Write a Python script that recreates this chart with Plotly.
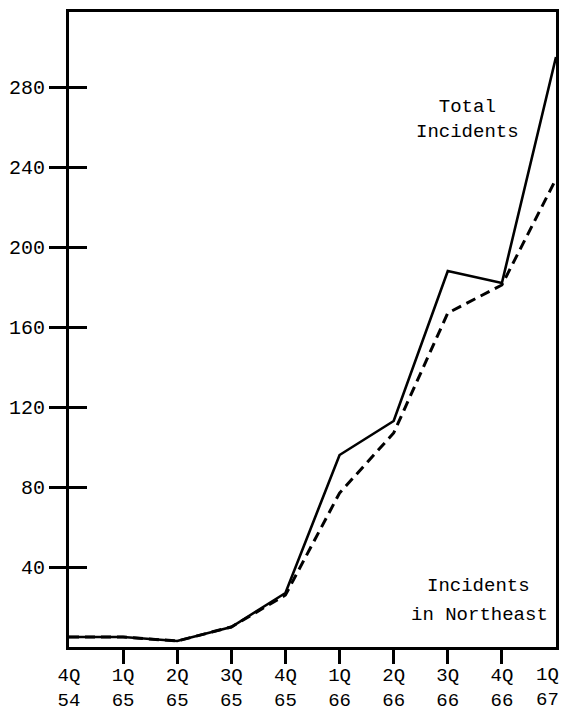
import plotly.graph_objects as go

# Quarterly incident counts, 4Q 1964 through 1Q 1967
quarters = ["4Q<br>54", "1Q<br>65", "2Q<br>65", "3Q<br>65", "4Q<br>65",
            "1Q<br>66", "2Q<br>66", "3Q<br>66", "4Q<br>66", "1Q<br>67"]
total_incidents = [5, 5, 3, 10, 27, 96, 113, 188, 182, 295]
northeast_incidents = [5, 5, 3, 10, 26, 77, 107, 167, 181, 234]
y_ticks = [40, 80, 120, 160, 200, 240, 280]

x_idx = list(range(len(quarters)))
FONT = "Liberation Mono"
label_font = dict(size=19, family=FONT, color="black")

fig = go.Figure()
fig.add_trace(go.Scatter(
    x=x_idx, y=total_incidents, mode="lines",
    line=dict(color="black", width=2.6), showlegend=False))
fig.add_trace(go.Scatter(
    x=x_idx, y=northeast_incidents, mode="lines",
    line=dict(color="black", width=3, dash="10px,6px"), showlegend=False))
# invisible trace that carries the secondary axes used for tick marks
fig.add_trace(go.Scatter(x=[0], y=[0], xaxis="x2", yaxis="y2",
                         mode="markers", marker=dict(opacity=0),
                         showlegend=False, hoverinfo="skip"))

# the last quarter sits on the right border, so its label is drawn
# right-aligned to keep it inside the page
axis_labels = quarters[:-1] + [""]

fig.update_layout(
    width=562, height=716,
    margin=dict(l=69, r=6, t=12, b=69, autoexpand=False),
    paper_bgcolor="white", plot_bgcolor="white",
    font=dict(family=FONT, color="black"),
    xaxis=dict(
        range=[0, 9], tickvals=x_idx, ticktext=axis_labels,
        ticks="", showgrid=False, zeroline=False, automargin=False,
        showline=True, linecolor="black", linewidth=3, mirror=True,
        tickfont=dict(size=19, family=FONT), ticklabelstandoff=8,
        ticklabeloverflow="allow"),
    yaxis=dict(
        range=[0, 317.5], tickvals=y_ticks, automargin=False,
        ticks="outside", ticklen=17, tickwidth=3, tickcolor="black",
        showgrid=False, zeroline=False,
        showline=True, linecolor="black", linewidth=3, mirror=True,
        tickfont=dict(size=20, family=FONT)),
    xaxis2=dict(
        range=[0, 9], tickvals=x_idx[1:-1], overlaying="x", anchor="y",
        ticks="outside", ticklen=16, tickwidth=3, tickcolor="black",
        automargin=False,
        showticklabels=False, showgrid=False, zeroline=False, showline=False),
    yaxis2=dict(
        range=[0, 317.5], tickvals=y_ticks, overlaying="y", anchor="x",
        side="left", automargin=False,
        ticks="inside", ticklen=18, tickwidth=3, tickcolor="black",
        showticklabels=False, showgrid=False, zeroline=False, showline=False),
    annotations=[
        dict(x=7.37, y=264, xref="x", yref="y", text="Total<br>Incidents",
             showarrow=False, align="center", font=label_font),
        dict(x=7.57, y=30.5, xref="x", yref="y", text="Incidents",
             showarrow=False, align="center", font=label_font),
        dict(x=7.59, y=16, xref="x", yref="y", text="in Northeast",
             showarrow=False, align="center", font=label_font),
        dict(x=x_idx[-1], y=0, xref="x", yref="y", text=quarters[-1],
             xanchor="right", yanchor="top", xshift=5, yshift=-15,
             showarrow=False, align="center",
             font=dict(size=19, family=FONT, color="black")),
    ],
)

fig.write_html("out.html")
